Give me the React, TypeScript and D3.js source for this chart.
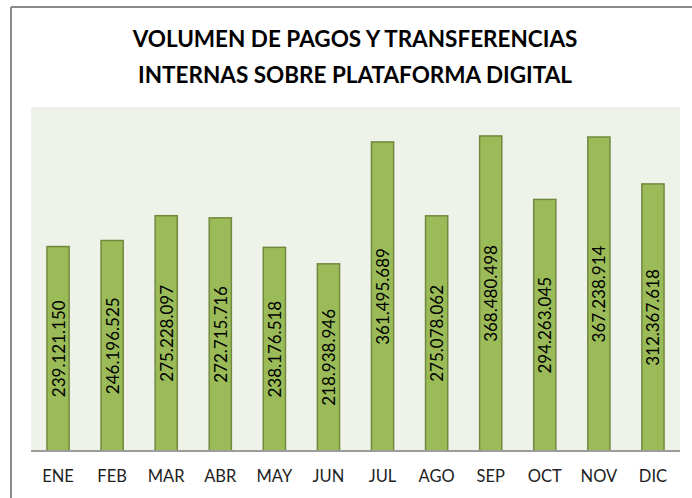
import React from "react";
import * as d3 from "d3";

const months = ["ENE", "FEB", "MAR", "ABR", "MAY", "JUN", "JUL", "AGO", "SEP", "OCT", "NOV", "DIC"];
const values = [239121150, 246196525, 275228097, 272715716, 238176518, 218938946, 361495689, 275078062, 368480498, 294263045, 367238914, 312367618];
const titleLines = ["VOLUMEN DE PAGOS Y TRANSFERENCIAS", "INTERNAS SOBRE PLATAFORMA DIGITAL"];
const yMax = 400000000;

const W = 692;
const H = 498;
const plot = { left: 31, right: 680, top: 107, bottom: 451 };

const fmt = (v: number) => d3.format(",")(v).replace(/,/g, ".");

export default function App() {
  const x = d3.scaleBand<string>().domain(months).range([plot.left, plot.right]).paddingInner(0.59).paddingOuter(0.295);
  const y = d3.scaleLinear().domain([0, yMax]).range([plot.bottom, 109]);
  const font = "Lato, 'Open Sans', sans-serif";
  return (
    <svg width={W} height={H} style={{ position: "absolute", left: 0, top: 0, background: "#fff" }}>
      <line x1={11} y1={7} x2={W} y2={7} stroke="#8a8a8a" strokeWidth={2} />
      <line x1={11} y1={7} x2={11} y2={H} stroke="#8a8a8a" strokeWidth={2} />
      {titleLines.map((t, i) => (
        <text key={i} x={355} y={47 + i * 36} textAnchor="middle" fontFamily={font} fontWeight={700} fontSize={22.5} fill="#000">
          {t}
        </text>
      ))}
      <rect x={plot.left} y={plot.top} width={plot.right - plot.left} height={plot.bottom - plot.top} fill="#eff2e9" />
      {months.map((m, i) => {
        const bx = x(m)!;
        const bw = x.bandwidth();
        const top = y(values[i]);
        const cx = bx + bw / 2;
        const cy = (top + y(0)) / 2;
        return (
          <g key={m}>
            <rect x={bx} y={top} width={bw} height={y(0) - top} fill="#9bbb59" stroke="#71893f" strokeWidth={1.5} />
            <text transform={`translate(${cx},${cy}) rotate(-90)`} textAnchor="middle" dominantBaseline="central" fontFamily={font} fontSize={17} fill="#000">
              {fmt(values[i])}
            </text>
            <text x={cx} y={482} textAnchor="middle" fontFamily={font} fontSize={16.5} fill="#222">
              {m}
            </text>
          </g>
        );
      })}
      <line x1={plot.left} y1={plot.bottom} x2={plot.right} y2={plot.bottom} stroke="#9c9c9c" strokeWidth={2} />
    </svg>
  );
}
